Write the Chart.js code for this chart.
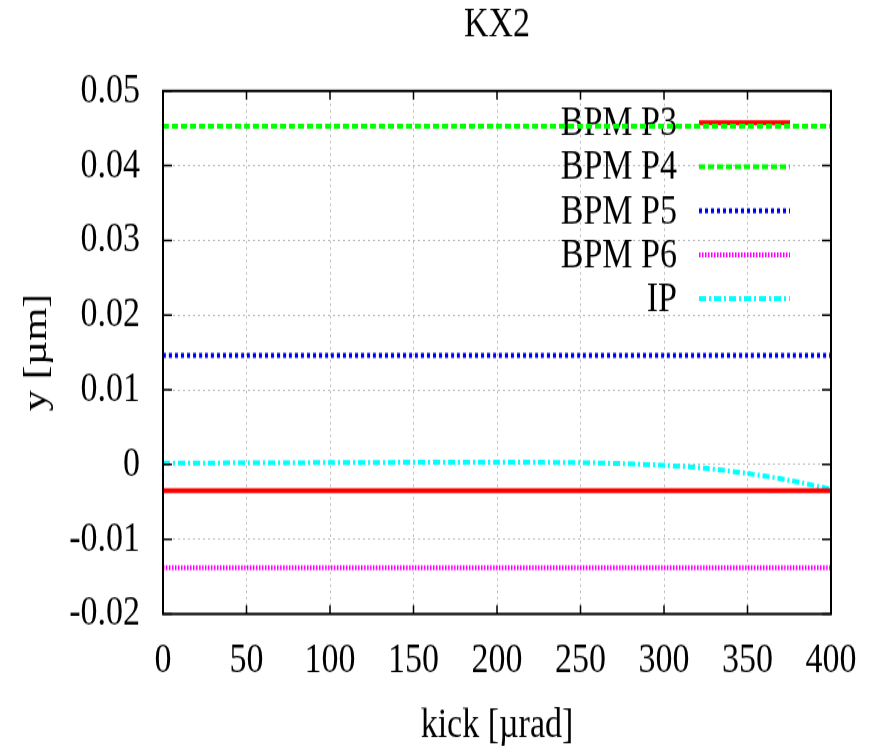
<!DOCTYPE html>
<html>
<head>
<meta charset="utf-8">
<title>KX2</title>
<script src="https://cdn.jsdelivr.net/npm/chart.js@4/dist/chart.umd.min.js"></script>
<style>
  body { margin: 0; background: #fff; }
  /* plot is rendered at 877x598 and shown at 877x747, like the stretched gnuplot output */
  #kx2-chart { display: block; width: 877px; height: 747px; }
</style>
</head>
<body>
<canvas id="kx2-chart" width="877" height="598" style="width:877px;height:747px"></canvas>
<script>
// kick scan in urad, orbit response at each monitor in um
const kick = [0, 25, 50, 75, 100, 125, 150, 175, 200, 225, 250, 275, 300, 325, 350, 375, 400];

const bpmP3 = [-0.0035, -0.0035, -0.0035, -0.0035, -0.0035, -0.0035, -0.0035, -0.0035, -0.0035,
               -0.0035, -0.0035, -0.0035, -0.0035, -0.0035, -0.0035, -0.0035, -0.0035];
const bpmP4 = [0.0453, 0.0453, 0.0453, 0.0453, 0.0453, 0.0453, 0.0453, 0.0453, 0.0453,
               0.0453, 0.0453, 0.0453, 0.0453, 0.0453, 0.0453, 0.0453, 0.0453];
const bpmP5 = [0.0146, 0.0146, 0.0146, 0.0146, 0.0146, 0.0146, 0.0146, 0.0146, 0.0146,
               0.0146, 0.0146, 0.0146, 0.0146, 0.0146, 0.0146, 0.0146, 0.0146];
const bpmP6 = [-0.0138, -0.0138, -0.0138, -0.0138, -0.0138, -0.0138, -0.0138, -0.0138, -0.0138,
               -0.0138, -0.0138, -0.0138, -0.0138, -0.0138, -0.0138, -0.0138, -0.0138];
const ip = [0.0002, 0.0002, 0.00022, 0.00024, 0.00026, 0.00028, 0.0003, 0.0003, 0.0003,
            0.0003, 0.00025, 0.00012, -0.0001, -0.0005, -0.0012, -0.0021, -0.0033];

const xTicks = [0, 50, 100, 150, 200, 250, 300, 350, 400];
const yTicks = [-0.02, -0.01, 0, 0.01, 0.02, 0.03, 0.04, 0.05];

const serif = "'Liberation Serif', 'Times New Roman', serif";
const fontSize = 34;

function series(label, values, color, dash, width) {
  return {
    label: label,
    data: kick.map((k, i) => ({ x: k, y: values[i] })),
    borderColor: color,
    backgroundColor: color,
    borderDash: dash,
    borderWidth: width,
    borderCapStyle: 'butt',
    pointRadius: 0,
    tension: 0.3,
    fill: false
  };
}

// gnuplot-like key: text right aligned, sample line to its right
const keyPlugin = {
  id: 'gnuKey',
  beforeDatasetsDraw(chart) {
    const ctx = chart.ctx;
    const area = chart.chartArea;
    ctx.save();
    ctx.font = fontSize + 'px ' + serif;
    ctx.textAlign = 'right';
    ctx.textBaseline = 'middle';
    chart.data.datasets.forEach((ds, i) => {
      const y = area.top + 25.5 + i * 35.2;
      ctx.fillStyle = '#000';
      ctx.fillText(ds.label, area.right - 154, y + 1);
      ctx.strokeStyle = ds.borderColor;
      ctx.lineWidth = ds.borderWidth;
      ctx.lineCap = 'butt';
      ctx.setLineDash(ds.borderDash || []);
      ctx.beginPath();
      ctx.moveTo(area.right - 132, y);
      ctx.lineTo(area.right - 41, y);
      ctx.stroke();
    });
    ctx.restore();
  }
};

// frame around the plot plus inward (mirrored) tick marks
const framePlugin = {
  id: 'frame',
  afterDraw(chart) {
    const ctx = chart.ctx;
    const a = chart.chartArea;
    const xs = chart.scales.x;
    const ys = chart.scales.y;
    ctx.save();
    ctx.strokeStyle = '#000';
    ctx.lineWidth = 1.5;
    ctx.setLineDash([]);
    ctx.beginPath();
    xs.ticks.forEach(t => {
      const px = xs.getPixelForValue(t.value);
      ctx.moveTo(px, a.bottom); ctx.lineTo(px, a.bottom - 7);
      ctx.moveTo(px, a.top); ctx.lineTo(px, a.top + 7);
    });
    ys.ticks.forEach(t => {
      const py = ys.getPixelForValue(t.value);
      ctx.moveTo(a.left, py); ctx.lineTo(a.left + 9, py);
      ctx.moveTo(a.right, py); ctx.lineTo(a.right - 9, py);
    });
    ctx.stroke();
    ctx.lineWidth = 2;
    ctx.strokeRect(a.left, a.top, a.right - a.left, a.bottom - a.top);
    ctx.restore();
  }
};

const ctx = document.getElementById('kx2-chart').getContext('2d');
const chart = new Chart(ctx, {
  type: 'line',
  data: {
    datasets: [
      series('BPM P3', bpmP3, '#ff0000', [], 4),
      series('BPM P4', bpmP4, '#00ff00', [6, 3], 4),
      series('BPM P5', bpmP5, '#0000ff', [3, 3], 4),
      series('BPM P6', bpmP6, '#ff00ff', [1.5, 1.5], 4),
      series('IP', ip, '#00ffff', [7, 3, 2, 3], 4)
    ]
  },
  options: {
    responsive: false,
    animation: false,
    devicePixelRatio: 1,
    layout: { padding: { left: 0, right: 46, top: 0, bottom: 0 } },
    plugins: {
      legend: { display: false },
      tooltip: { enabled: false },
      title: {
        display: true,
        text: 'KX2',
        fullSize: false,
        color: '#000',
        font: { family: serif, size: fontSize, weight: 'normal' },
        padding: { top: 0, bottom: 32 }
      }
    },
    scales: {
      x: {
        type: 'linear',
        min: 0,
        max: 400,
        afterBuildTicks(scale) {
          scale.ticks = xTicks.map(v => ({ value: v }));
        },
        afterFit(scale) { scale.height = 106.5; },
        grid: { color: '#bbbbbb', lineWidth: 1, drawTicks: false },
        border: { display: false, dash: [2, 3] },
        ticks: {
          color: '#000',
          padding: 17,
          maxRotation: 0,
          font: { family: serif, size: fontSize }
        },
        title: {
          display: true,
          text: 'kick [\u00b5rad]',
          color: '#000',
          font: { family: serif, size: fontSize, lineHeight: 1.0 },
          padding: { top: 0, bottom: 0 }
        }
      },
      y: {
        type: 'linear',
        min: -0.02,
        max: 0.05,
        afterBuildTicks(scale) {
          scale.ticks = yTicks.map(v => ({ value: v }));
        },
        afterFit(scale) { scale.width = 163; },
        grid: { color: '#bbbbbb', lineWidth: 1, drawTicks: false },
        border: { display: false, dash: [2, 3] },
        ticks: {
          color: '#000',
          padding: 23,
          font: { family: serif, size: fontSize },
          callback: v => String(Number(v.toFixed(2)))
        },
        title: {
          display: true,
          text: 'y [\u00b5m]',
          color: '#000',
          font: { family: serif, size: fontSize },
          padding: { top: 17, bottom: 0 }
        }
      }
    }
  },
  plugins: [keyPlugin, framePlugin]
});
</script>
</body>
</html>
